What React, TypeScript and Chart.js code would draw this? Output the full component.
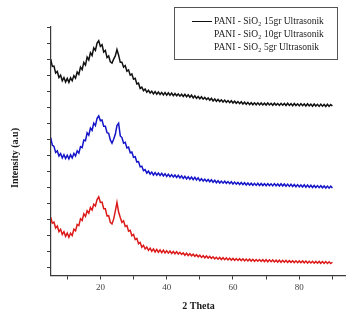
import React, { useEffect, useRef } from 'react';
import { Chart, registerables } from 'chart.js';

Chart.register(...registerables);

const theta = [
  5, 5.5, 6, 6.5, 7, 7.5, 8, 8.5, 9, 9.5,
  10, 10.5, 11, 11.5, 12, 12.5, 13, 13.5, 14, 14.5,
  15, 15.5, 16, 16.5, 17, 17.5, 18, 18.5, 19, 19.5,
  20, 20.5, 21, 21.5, 22, 22.5, 23, 23.5, 24, 24.5,
  25, 25.5, 26, 26.5, 27, 27.5, 28, 28.5, 29, 29.5,
  30, 30.5, 31, 31.5, 32, 32.5, 33, 33.5, 34, 34.5,
  35, 35.5, 36, 36.5, 37, 37.5, 38, 38.5, 39, 39.5,
  40, 40.5, 41, 41.5, 42, 42.5, 43, 43.5, 44, 44.5,
  45, 45.5, 46, 46.5, 47, 47.5, 48, 48.5, 49, 49.5,
  50, 50.5, 51, 51.5, 52, 52.5, 53, 53.5, 54, 54.5,
  55, 55.5, 56, 56.5, 57, 57.5, 58, 58.5, 59, 59.5,
  60, 60.5, 61, 61.5, 62, 62.5, 63, 63.5, 64, 64.5,
  65, 65.5, 66, 66.5, 67, 67.5, 68, 68.5, 69, 69.5,
  70, 70.5, 71, 71.5, 72, 72.5, 73, 73.5, 74, 74.5,
  75, 75.5, 76, 76.5, 77, 77.5, 78, 78.5, 79, 79.5,
  80, 80.5, 81, 81.5, 82, 82.5, 83, 83.5, 84, 84.5,
  85, 85.5, 86, 86.5, 87, 87.5, 88, 88.5, 89, 89.5,
  90,
];

const sio2_15gr = [
  13.05, 12.6, 12.62, 12.18, 12.28, 11.9, 12.05, 11.7, 11.9, 11.62,
  11.85, 11.6, 11.88, 11.7, 12.02, 11.86, 12.25, 12.1, 12.55, 12.4,
  12.85, 12.68, 13.18, 13.0, 13.45, 13.28, 13.75, 13.6, 14.05, 14.2,
  13.85, 13.95, 13.5, 13.6, 13.15, 13.25, 12.88, 12.8, 13.05, 13.25,
  13.65, 13.3, 12.85, 12.85, 12.55, 12.65, 12.3, 12.38, 12.05, 12.12,
  11.8, 11.85, 11.5, 11.55, 11.22, 11.3, 11.08, 11.18, 10.98, 11.1,
  10.94, 11.05, 10.88, 11.02, 10.86, 11.0, 10.84, 10.97, 10.82, 10.96,
  10.8, 10.95, 10.8, 10.93, 10.77, 10.9, 10.76, 10.88, 10.74, 10.86,
  10.72, 10.85, 10.7, 10.82, 10.67, 10.8, 10.63, 10.76, 10.6, 10.72,
  10.58, 10.7, 10.55, 10.66, 10.52, 10.63, 10.48, 10.6, 10.44, 10.56,
  10.42, 10.53, 10.4, 10.51, 10.37, 10.49, 10.35, 10.46, 10.33, 10.45,
  10.31, 10.42, 10.29, 10.4, 10.27, 10.39, 10.25, 10.36, 10.23, 10.35,
  10.21, 10.33, 10.2, 10.32, 10.2, 10.32, 10.19, 10.31, 10.19, 10.3,
  10.18, 10.31, 10.19, 10.29, 10.17, 10.3, 10.18, 10.28, 10.16, 10.29,
  10.17, 10.28, 10.15, 10.29, 10.16, 10.27, 10.14, 10.28, 10.15, 10.26,
  10.13, 10.27, 10.14, 10.25, 10.12, 10.26, 10.13, 10.24, 10.11, 10.25,
  10.12, 10.23, 10.1, 10.24, 10.11, 10.22, 10.09, 10.23, 10.1, 10.21,
  10.12,
];

const sio2_10gr = [
  8.15, 7.68, 7.6, 7.22, 7.32, 7.0, 7.15, 6.88, 7.08, 6.84,
  7.05, 6.82, 7.07, 6.88, 7.16, 7.0, 7.32, 7.18, 7.58, 7.52,
  8.0, 7.95, 8.45, 8.3, 8.75, 8.6, 9.05, 8.9, 9.35, 9.5,
  9.2, 9.25, 8.85, 8.85, 8.45, 8.42, 8.0, 7.8, 8.05, 8.35,
  8.9, 9.05, 8.25, 8.15, 7.8, 7.85, 7.5, 7.55, 7.2, 7.25,
  6.92, 6.95, 6.62, 6.65, 6.32, 6.36, 6.08, 6.15, 5.93, 6.05,
  5.86, 5.99, 5.81, 5.96, 5.8, 5.93, 5.78, 5.92, 5.75, 5.89,
  5.72, 5.86, 5.7, 5.83, 5.68, 5.81, 5.66, 5.79, 5.63, 5.76,
  5.59, 5.73, 5.57, 5.7, 5.55, 5.68, 5.52, 5.66, 5.5, 5.63,
  5.45, 5.58, 5.43, 5.55, 5.41, 5.53, 5.39, 5.51, 5.36, 5.48,
  5.33, 5.45, 5.31, 5.43, 5.3, 5.42, 5.29, 5.4, 5.27, 5.39,
  5.25, 5.37, 5.24, 5.35, 5.22, 5.34, 5.21, 5.33, 5.19, 5.31,
  5.18, 5.3, 5.17, 5.29, 5.16, 5.29, 5.15, 5.28, 5.15, 5.27,
  5.14, 5.27, 5.15, 5.26, 5.13, 5.27, 5.14, 5.25, 5.12, 5.26,
  5.12, 5.25, 5.11, 5.24, 5.1, 5.23, 5.09, 5.22, 5.08, 5.21,
  5.07, 5.19, 5.06, 5.2, 5.05, 5.18, 5.04, 5.17, 5.03, 5.16,
  5.03, 5.15, 5.02, 5.14, 5.01, 5.13, 5.0, 5.12, 4.99, 5.11,
  5.0,
];

const sio2_5gr = [
  3.18, 2.8, 2.86, 2.5, 2.62, 2.28, 2.42, 2.1, 2.27, 1.98,
  2.18, 1.92, 2.17, 2.03, 2.42, 2.32, 2.72, 2.65, 3.08, 2.97,
  3.38, 3.22, 3.58, 3.42, 3.78, 3.62, 3.98, 3.87, 4.28, 4.45,
  4.1, 4.12, 3.7, 3.7, 3.25, 3.27, 2.85, 2.75, 3.05, 3.55,
  4.1, 3.5, 3.15, 2.85, 2.95, 2.6, 2.65, 2.3, 2.35, 2.02,
  2.1, 1.78, 1.85, 1.52, 1.6, 1.3, 1.42, 1.19, 1.31, 1.1,
  1.24, 1.04, 1.19, 1.0, 1.16, 0.98, 1.13, 0.96, 1.11, 0.94,
  1.08, 0.93, 1.06, 0.91, 1.03, 0.89, 1.01, 0.87, 0.98, 0.85,
  0.94, 0.8, 0.92, 0.78, 0.89, 0.76, 0.86, 0.73, 0.83, 0.7,
  0.8, 0.66, 0.77, 0.64, 0.75, 0.62, 0.72, 0.6, 0.7, 0.57,
  0.67, 0.55, 0.66, 0.53, 0.64, 0.52, 0.63, 0.5, 0.61, 0.49,
  0.6, 0.48, 0.59, 0.47, 0.58, 0.46, 0.57, 0.45, 0.56, 0.44,
  0.55, 0.43, 0.54, 0.42, 0.53, 0.42, 0.53, 0.41, 0.52, 0.4,
  0.52, 0.39, 0.51, 0.39, 0.5, 0.38, 0.49, 0.37, 0.49, 0.36,
  0.48, 0.36, 0.47, 0.35, 0.46, 0.35, 0.45, 0.34, 0.45, 0.33,
  0.44, 0.33, 0.44, 0.32, 0.43, 0.31, 0.42, 0.31, 0.42, 0.3,
  0.41, 0.3, 0.41, 0.29, 0.4, 0.29, 0.4, 0.28, 0.39, 0.28,
  0.36,
];

const seriesLabels = [
  'PANI - SiO₂ 15gr Ultrasonik',
  'PANI - SiO₂ 10gr Ultrasonik',
  'PANI - SiO₂ 5gr Ultrasonik',
];
const seriesColors = ['#111111', '#1414c8', '#dc1a1a'];

const xTickValues = [10, 20, 30, 40, 50, 60, 70, 80, 90];
const xTickLabels = ['', '20', '', '40', '', '60', '', '80', ''];
const yTickValues = [0, 1, 2, 3, 4, 5, 6, 7, 8, 9, 10, 11, 12, 13, 14, 15];

const xTitle = '2 Theta';
const yTitle = 'Intensity (a.u)';

const SERIF = '"Liberation Serif", "Times New Roman", serif';
const AXIS = '#3a3a3a';

const overlayPlugin = {
  id: 'overlay',
  afterDraw(chart: any) {
    const ctx = chart.ctx as CanvasRenderingContext2D;
    ctx.save();
    ctx.fillStyle = '#1a1a1a';
    ctx.font = `bold 10px ${SERIF}`;
    ctx.textAlign = 'center';
    ctx.textBaseline = 'middle';
    ctx.translate(15, 158);
    ctx.rotate(-Math.PI / 2);
    ctx.fillText(yTitle, 0, 0);
    ctx.restore();

    ctx.save();
    ctx.strokeStyle = '#555555';
    ctx.lineWidth = 1;
    ctx.strokeRect(174.5, 7.5, 163, 52);
    const rows = [21, 34, 47];
    chart.data.datasets.forEach((ds: any, i: number) => {
      const y = rows[i];
      if (i === 0) {
        ctx.strokeStyle = ds.borderColor;
        ctx.lineWidth = 1;
        ctx.beginPath();
        ctx.moveTo(192, y + 0.5);
        ctx.lineTo(212, y + 0.5);
        ctx.stroke();
      }
      const label: string = ds.label;
      const [pre, post] = label.split('₂');
      ctx.fillStyle = '#1a1a1a';
      ctx.textAlign = 'left';
      ctx.textBaseline = 'middle';
      let x = 214;
      ctx.font = `9.5px ${SERIF}`;
      ctx.fillText(pre, x, y);
      x += ctx.measureText(pre).width;
      ctx.font = `6px ${SERIF}`;
      ctx.fillText('2', x + 0.3, y + 3);
      x += ctx.measureText('2').width + 0.6;
      ctx.font = `9.5px ${SERIF}`;
      ctx.fillText(post, x, y);
    });
    ctx.restore();
  },
};

export default function App() {
  const canvasRef = useRef<HTMLCanvasElement | null>(null);

  useEffect(() => {
    if (!canvasRef.current) return;
    const makeData = (vals: number[]) => theta.map((t, i) => ({ x: t, y: vals[i] }));
    const chart = new Chart(canvasRef.current, {
      type: 'line',
      data: {
        datasets: [sio2_15gr, sio2_10gr, sio2_5gr].map((vals, i) => ({
          label: seriesLabels[i],
          data: makeData(vals),
          borderColor: seriesColors[i],
          backgroundColor: seriesColors[i],
          borderWidth: 1.5,
          pointRadius: 0,
          tension: 0,
          fill: false,
        })),
      },
      options: {
        responsive: false,
        animation: false,
        layout: { padding: { top: 27, right: 0, left: 0, bottom: 0 } },
        plugins: {
          legend: { display: false },
          tooltip: { enabled: false },
        },
        scales: {
          x: {
            type: 'linear',
            min: 5.1,
            max: 94.1,
            border: { display: true, color: AXIS, width: 1.2 },
            grid: {
              display: true,
              drawOnChartArea: false,
              drawTicks: true,
              tickLength: 4,
              color: AXIS,
            },
            ticks: {
              autoSkip: false,
              maxRotation: 0,
              padding: 3,
              color: '#444444',
              font: { family: SERIF, size: 9 },
              callback: (v: any) => {
                const idx = xTickValues.indexOf(Number(v));
                return idx >= 0 ? xTickLabels[idx] : '';
              },
            },
            afterBuildTicks: (scale: any) => {
              scale.ticks = xTickValues.map((v) => ({ value: v }));
            },
            afterFit: (scale: any) => {
              scale.height = 38.5;
            },
            title: {
              display: true,
              text: xTitle,
              color: '#1a1a1a',
              font: { family: SERIF, size: 10, weight: 'bold' },
              padding: { top: 0, bottom: 2 },
            },
          },
          y: {
            type: 'linear',
            min: -0.47,
            max: 15.06,
            border: { display: true, color: AXIS, width: 1.2 },
            grid: {
              display: true,
              drawOnChartArea: false,
              drawTicks: true,
              tickLength: 4,
              color: AXIS,
            },
            ticks: {
              autoSkip: false,
              callback: () => '',
            },
            afterBuildTicks: (scale: any) => {
              scale.ticks = yTickValues.map((v) => ({ value: v }));
            },
            afterFit: (scale: any) => {
              scale.width = 51;
            },
          },
        },
      },
      plugins: [overlayPlugin],
    });
    return () => chart.destroy();
  }, []);

  return (
    <div style={{ position: 'absolute', left: 0, top: 0, width: 346, height: 314, background: '#ffffff' }}>
      <canvas ref={canvasRef} width={346} height={314} style={{ display: 'block' }} />
    </div>
  );
}
